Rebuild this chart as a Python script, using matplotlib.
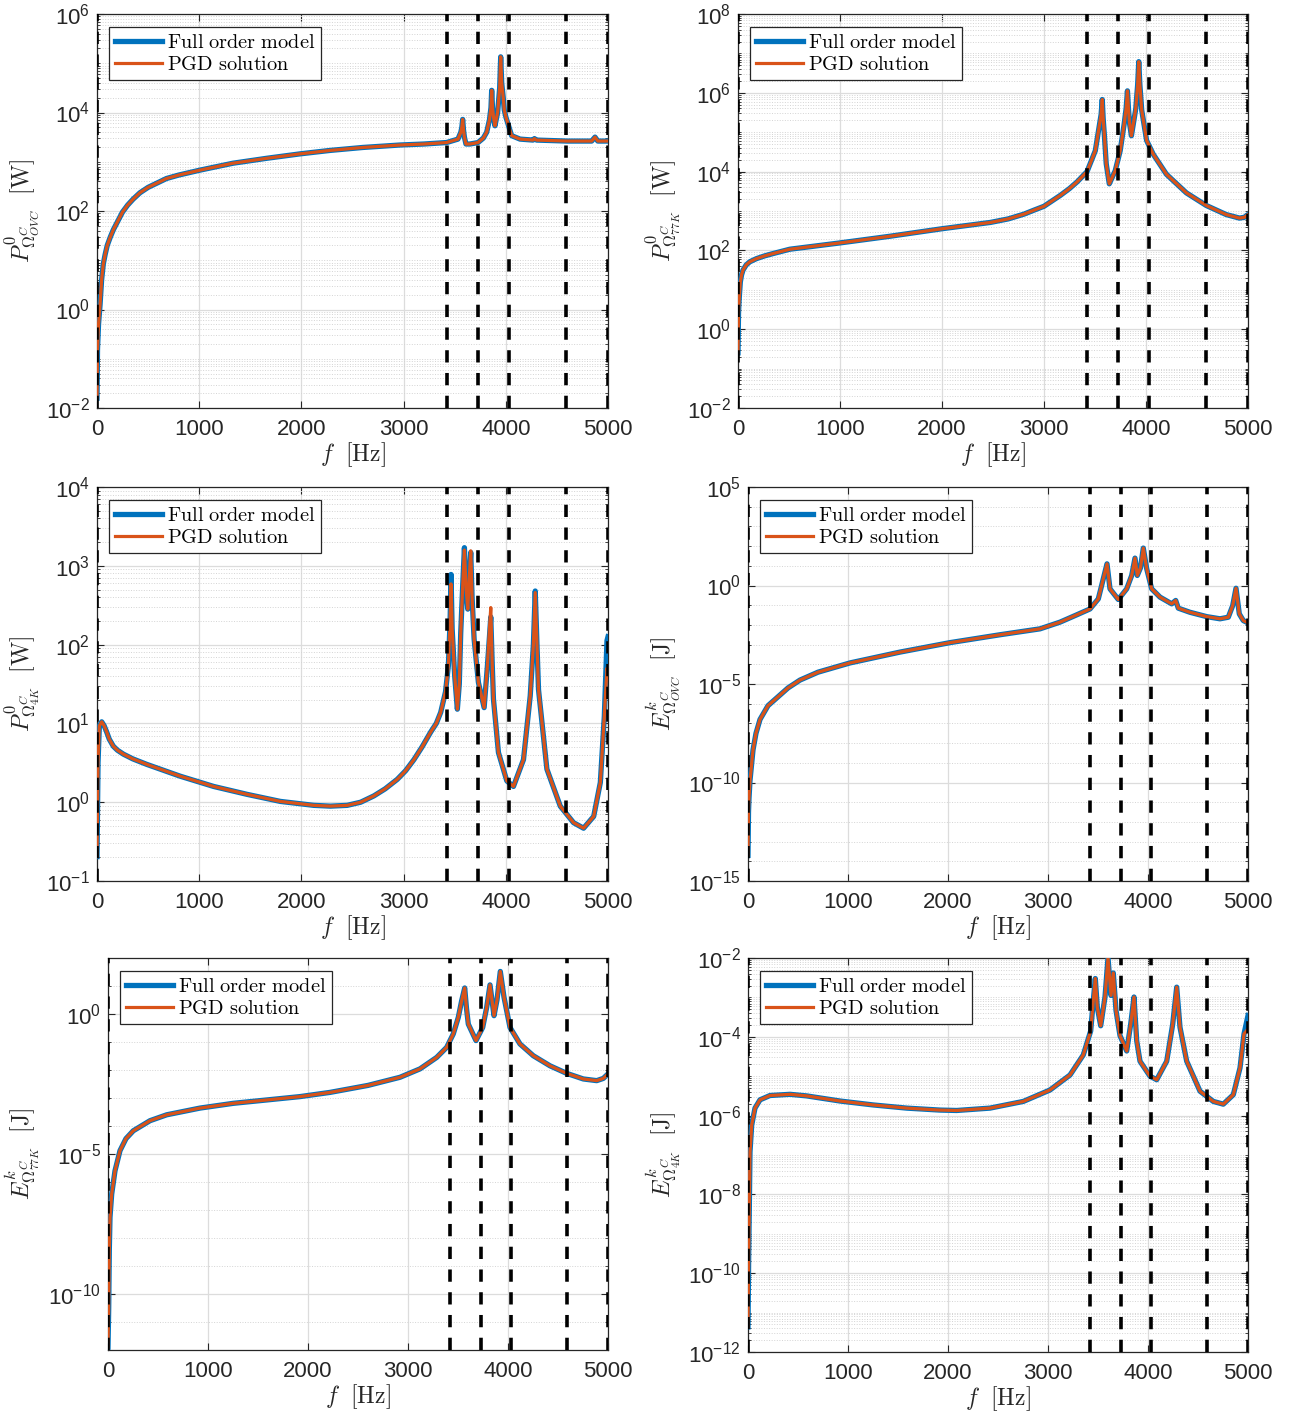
import numpy as np
import matplotlib
matplotlib.use('Agg')
import matplotlib.pyplot as plt
from matplotlib.ticker import FixedLocator, FuncFormatter, NullFormatter

plt.rcParams['font.family'] = ['Liberation Sans', 'DejaVu Sans']
plt.rcParams['mathtext.fontset'] = 'cm'

FOM_COLOR = '#0072BD'
PGD_COLOR = '#D95319'
AX_COLOR = '#262626'

# frequency band limits drawn as dashed lines [Hz]
band_edges = [0, 3420, 3730, 4030, 4590, 5000]

# --- P0 OVC [W]  (values are log10) ---
f_p_ovc = [0, 5, 15, 30, 45, 62, 80, 100, 130, 160, 200, 250, 300, 353, 420, 500, 580, 680,
           800, 1008, 1330, 1660, 1986, 2280, 2600, 2965, 3200, 3420, 3532, 3560, 3570, 3578,
           3586, 3595, 3610, 3650, 3728, 3780, 3813, 3840, 3855, 3862, 3870, 3880, 3894, 3920,
           3940, 3950, 3960, 3975, 3985, 4002, 4057, 4139, 4266, 4280, 4300, 4599, 4840, 4873,
           4900, 5000]
p_ovc = [-1.8, -0.8, -0.3, 0.1, 0.6, 0.93, 1.12, 1.3, 1.47, 1.62, 1.78, 1.98, 2.12, 2.24, 2.37,
         2.48, 2.56, 2.66, 2.73, 2.83, 2.97, 3.07, 3.16, 3.23, 3.29, 3.34, 3.36, 3.39, 3.46,
         3.6, 3.7, 3.86, 3.65, 3.5, 3.36, 3.36, 3.39, 3.48, 3.6, 3.85, 4.1, 4.45, 4.1, 3.9,
         3.73, 4.0, 4.5, 5.13, 4.6, 4.3, 4.05, 3.9, 3.53, 3.46, 3.44, 3.47, 3.44, 3.42, 3.42,
         3.5, 3.42, 3.42]

# --- P0 77K [W] ---
f_p_77k = [0, 3, 5, 10, 15, 23, 35, 49, 80, 115, 180, 260, 344, 508, 1000, 1492, 2000, 2475,
           2650, 2803, 2900, 3000, 3162, 3250, 3325, 3422, 3503, 3545, 3560, 3571, 3580, 3591,
           3610, 3640, 3698, 3747, 3786, 3805, 3818, 3828, 3840, 3857, 3900, 3918, 3929, 3940,
           3958, 4006, 4071, 4201, 4396, 4591, 4786, 4916, 4964, 5000]
p_77k = [-0.6, 0.0, 0.4, 0.7, 0.9, 1.2, 1.38, 1.5, 1.63, 1.71, 1.79, 1.86, 1.92, 2.03, 2.19,
         2.36, 2.55, 2.71, 2.8, 2.92, 3.02, 3.12, 3.40, 3.57, 3.74, 4.0, 4.53, 5.21, 5.45,
         5.83, 5.35, 4.96, 4.2, 3.69, 4.02, 4.53, 5.21, 5.6, 6.05, 5.6, 5.2, 4.91, 5.6, 6.2,
         6.79, 6.2, 5.56, 4.79, 4.44, 3.93, 3.46, 3.14, 2.91, 2.82, 2.84, 2.91]

# --- P0 4K [W] ---
f_p_4k = [0, 10, 23, 46, 70, 95, 120, 160, 200, 258, 350, 487, 814, 1141, 1467, 1794, 2121,
          2284, 2448, 2580, 2709, 2820, 2938, 3020, 3101, 3180, 3265, 3320, 3363, 3410, 3438,
          3455, 3464, 3475, 3500, 3526, 3545, 3559, 3580, 3595, 3612, 3628, 3645, 3657, 3670,
          3690, 3732, 3788, 3820, 3840, 3853, 3866, 3879, 3928, 4010, 4075, 4173, 4239, 4270,
          4288, 4305, 4320, 4402, 4533, 4663, 4761, 4860, 4925, 4964, 4990, 5000]
p_4k_fom = [-0.69, 0.5, 0.97, 1.02, 0.97, 0.89, 0.8, 0.71, 0.66, 0.61, 0.55, 0.48, 0.33, 0.20,
            0.10, 0.01, -0.04, -0.05, -0.04, 0.0, 0.08, 0.17, 0.29, 0.4, 0.54, 0.7, 0.89, 1.0,
            1.14, 1.4, 1.73, 2.3, 2.89, 2.2, 1.6, 1.18, 1.5, 2.15, 2.8, 3.23, 2.7, 2.45, 2.9,
            3.17, 2.6, 2.07, 1.52, 1.2, 1.73, 2.1, 2.35, 1.8, 1.31, 0.63, 0.27, 0.2, 0.54, 1.35,
            2.0, 2.68, 2.0, 1.43, 0.42, -0.05, -0.26, -0.33, -0.18, 0.25, 1.09, 2.05, 2.1]
p_4k_pgd = [-0.69, 0.5, 0.97, 1.02, 0.97, 0.89, 0.8, 0.71, 0.66, 0.61, 0.55, 0.48, 0.33, 0.20,
            0.10, 0.01, -0.04, -0.05, -0.04, 0.0, 0.08, 0.17, 0.29, 0.4, 0.54, 0.7, 0.89, 1.0,
            1.14, 1.4, 1.73, 2.3, 2.77, 2.2, 1.6, 1.18, 1.5, 2.15, 2.8, 3.2, 2.7, 2.45, 2.9,
            3.19, 2.6, 2.07, 1.52, 1.2, 1.73, 2.2, 2.47, 1.8, 1.31, 0.63, 0.27, 0.2, 0.54, 1.35,
            2.0, 2.66, 2.0, 1.43, 0.42, -0.05, -0.26, -0.33, -0.18, 0.25, 1.09, 1.7, 1.64]

# --- Ek OVC [J] ---
f_e_ovc = [0, 5, 10, 20, 50, 80, 120, 200, 320, 400, 520, 700, 1020, 1520, 2020, 2520, 2920,
           3120, 3287, 3420, 3503, 3553, 3590, 3620, 3703, 3787, 3837, 3870, 3893, 3925, 3953,
           3987, 4037, 4120, 4237, 4277, 4303, 4420, 4587, 4720, 4803, 4847, 4880, 4913, 4953,
           5000]
e_ovc = [-13.7, -11.5, -10.8, -9.9, -8.35, -7.5, -6.8, -6.1, -5.56, -5.2, -4.8, -4.4, -3.93,
         -3.38, -2.9, -2.5, -2.2, -1.86, -1.49, -1.19, -0.68, 0.34, 1.1, -0.17, -0.71, -0.17,
         0.51, 1.39, 0.51, 0.9, 1.9, 0.85, -0.17, -0.59, -0.93, -0.76, -1.15, -1.36, -1.58,
         -1.69, -1.61, -1.02, -0.14, -1.44, -1.78, -1.9]

# --- Ek 77K [J] ---
f_e_77k = [0, 7, 13, 20, 37, 70, 120, 180, 253, 420, 587, 920, 1253, 1587, 1920, 2220, 2600,
           2920, 3120, 3287, 3387, 3453, 3503, 3537, 3567, 3585, 3603, 3680, 3747, 3787, 3820,
           3860, 3890, 3923, 3960, 4020, 4120, 4253, 4420, 4587, 4753, 4887, 4953, 5000]
e_77k = [-11.9, -10.5, -8.45, -7.26, -6.43, -5.6, -4.88, -4.45, -4.17, -3.81, -3.6, -3.36,
         -3.19, -3.07, -2.95, -2.8, -2.55, -2.26, -1.96, -1.55, -1.19, -0.71, -0.12, 0.48,
         0.93, 0.2, -0.36, -0.95, -0.48, 0.24, 1.04, -0.06, 0.5, 1.52, 0.6, -0.48, -1.07,
         -1.49, -1.85, -2.12, -2.32, -2.38, -2.3, -2.14]

# --- Ek 4K [J] ---
f_e_4k = [0, 7, 13, 20, 37, 70, 120, 220, 420, 587, 920, 1253, 1587, 1920, 2087, 2420, 2753,
          3020, 3220, 3353, 3427, 3453, 3473, 3493, 3527, 3570, 3600, 3630, 3653, 3680, 3720,
          3787, 3827, 3860, 3887, 3920, 4020, 4087, 4187, 4247, 4287, 4320, 4387, 4520, 4653,
          4753, 4853, 4920, 4960, 5000]
e_4k_fom = [-11.36, -9.5, -8.36, -6.92, -6.24, -5.81, -5.6, -5.49, -5.46, -5.5, -5.63, -5.73,
            -5.81, -5.86, -5.87, -5.81, -5.64, -5.35, -4.97, -4.46, -3.85, -3.08, -2.52, -3.25,
            -3.72, -2.99, -2.0, -2.95, -2.38, -3.33, -3.97, -4.36, -3.68, -2.99, -4.1, -4.62,
            -5.0, -5.09, -4.62, -3.68, -2.74, -3.76, -4.62, -5.38, -5.64, -5.71, -5.47, -4.79,
            -3.93, -3.46]
e_4k_pgd = e_4k_fom[:-1] + [-3.8]

panels = [
    dict(rect=(97, 14, 608, 408), f=f_p_ovc, fom=p_ovc, pgd=p_ovc, ylim=(-2, 6),
         majors=[-2, 0, 2, 4, 6], subs=True,
         ylabel=r'$P^0_{\Omega^C_{OVC}}\ \ [\mathrm{W}]$', lab_x=22),
    dict(rect=(738, 14, 1248, 408), f=f_p_77k, fom=p_77k, pgd=p_77k, ylim=(-2, 8),
         majors=[-2, 0, 2, 4, 6, 8], subs=True,
         ylabel=r'$P^0_{\Omega^C_{77K}}\ \ [\mathrm{W}]$', lab_x=663),
    dict(rect=(97, 487, 608, 881), f=f_p_4k, fom=p_4k_fom, pgd=p_4k_pgd, ylim=(-1, 4),
         majors=[-1, 0, 1, 2, 3, 4], subs=True,
         ylabel=r'$P^0_{\Omega^C_{4K}}\ \ [\mathrm{W}]$', lab_x=22),
    dict(rect=(748, 487, 1248, 881), f=f_e_ovc, fom=e_ovc, pgd=e_ovc, ylim=(-15, 5),
         majors=[-15, -10, -5, 0, 5], subs=False,
         ylabel=r'$E^k_{\Omega^C_{OVC}}\ \ [\mathrm{J}]$', lab_x=663),
    dict(rect=(108, 958, 608, 1350), f=f_e_77k, fom=e_77k, pgd=e_77k, ylim=(-12, 2),
         majors=[-10, -5, 0], subs=False,
         ylabel=r'$E^k_{\Omega^C_{77K}}\ \ [\mathrm{J}]$', lab_x=22),
    dict(rect=(748, 958, 1248, 1352), f=f_e_4k, fom=e_4k_fom, pgd=e_4k_pgd, ylim=(-12, -2),
         majors=[-12, -10, -8, -6, -4, -2], subs=True,
         ylabel=r'$E^k_{\Omega^C_{4K}}\ \ [\mathrm{J}]$', lab_x=663),
]

W, H = 1293, 1418
fig = plt.figure(figsize=(W / 100, H / 100), dpi=100)

def exp_fmt(v, pos):
    return r'$\mathregular{10^{%d}}$' % int(round(np.log10(v)))

for p in panels:
    x0, y0, x1, y1 = p['rect']
    ax = fig.add_axes([x0 / W, 1 - y1 / H, (x1 - x0) / W, (y1 - y0) / H])
    f = np.array(p['f'], dtype=float)
    ax.plot(f, 10.0 ** np.array(p['fom']), color=FOM_COLOR, lw=3.8, label='Full order model',
            solid_joinstyle='round', zorder=3)
    ax.plot(f, 10.0 ** np.array(p['pgd']), color=PGD_COLOR, lw=2.3, label='PGD solution',
            solid_joinstyle='round', zorder=4)
    for fb in band_edges:
        ax.axvline(fb, color='k', lw=2.6, linestyle=(0, (3.4, 2.9)), zorder=5)

    lo, hi = p['ylim']
    ax.set_yscale('log')
    ax.set_xlim(0, 5000)
    ax.set_ylim(10.0 ** lo, 10.0 ** hi)
    ax.set_xticks(range(0, 5001, 1000))
    ax.yaxis.set_major_locator(FixedLocator([10.0 ** k for k in p['majors']]))
    if p['subs']:
        minors = [m * 10.0 ** k for k in range(lo, hi) for m in range(1, 10)
                  if not (m == 1 and k in p['majors'])]
    else:
        minors = [10.0 ** k for k in range(lo, hi + 1) if k not in p['majors']]
    ax.yaxis.set_minor_locator(FixedLocator(minors))
    ax.yaxis.set_major_formatter(FuncFormatter(exp_fmt))
    ax.yaxis.set_minor_formatter(NullFormatter())

    ax.grid(True, which='major', color='#dcdcdc', lw=0.9)
    ax.grid(True, which='minor', axis='y', color='#d4d4d4', lw=0.7, linestyle=':')
    ax.set_axisbelow(True)
    ax.tick_params(which='both', direction='in', top=True, right=True, colors=AX_COLOR,
                   labelsize=16)
    ax.tick_params(which='major', length=5, width=0.8)
    ax.tick_params(axis='x', which='major', pad=8)
    ax.tick_params(axis='y', which='major', pad=5)
    ax.tick_params(which='minor', length=2.5, width=0.6)
    for s in ax.spines.values():
        s.set_color(AX_COLOR)
        s.set_linewidth(0.9)

    ax.set_xlabel(r'$f\ \ [\mathrm{Hz}]$', fontsize=17, color=AX_COLOR, va='center')
    ax.xaxis.set_label_coords(0.5, -47 / (y1 - y0))
    ax.set_ylabel(p['ylabel'], fontsize=17, color=AX_COLOR, va='center')
    ax.yaxis.set_label_coords((p['lab_x'] - x0) / (x1 - x0), 0.5)

    leg = ax.legend(loc='upper left', bbox_to_anchor=(12 / (x1 - x0), 1 - 13 / (y1 - y0)),
                    borderaxespad=0, fancybox=False, framealpha=1, edgecolor=AX_COLOR,
                    handlelength=2.3, handletextpad=0.25, borderpad=0.3, labelspacing=0.15,
                    prop={'family': 'serif', 'size': 14.6})
    leg.get_frame().set_linewidth(0.9)
    for t in leg.get_texts():
        t.set_text(r'$\mathrm{' + t.get_text().replace(' ', r'\ ') + '}$')

fig.savefig('out.png', dpi=100)
